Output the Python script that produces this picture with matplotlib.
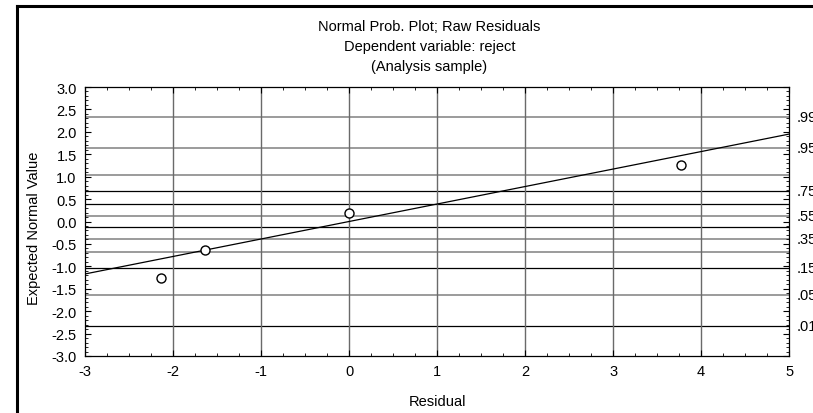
import numpy as np
import matplotlib.pyplot as plt
from matplotlib.lines import Line2D
from matplotlib.ticker import MultipleLocator

plt.rcParams['font.family'] = ['Liberation Sans', 'DejaVu Sans']
plt.rcParams['axes.unicode_minus'] = False

# residuals and their expected normal values
residuals = [-2.14, -1.64, 0.0, 3.77]
expected = [-1.26, -0.63, 0.19, 1.26]

# fitted reference line
fit_intercept = 0.0
fit_slope = 0.39

# probability grid lines (right side scale)
probs = [.01, .05, .15, .25, .35, .45, .55, .65, .75, .85, .95, .99]
prob_z = [-2.326, -1.645, -1.036, -0.674, -0.385, -0.126,
          0.126, 0.385, 0.674, 1.036, 1.645, 2.326]
prob_dark = [True, False, True, False, False, True,
             False, True, True, False, False, False]
prob_labels = ['.01', '.05', '.15', '', '.35', '', '.55', '', '.75', '', '.95', '.99']

FS = 10.5

fig = plt.figure(figsize=(8.13, 4.14), dpi=100)
ax = fig.add_axes([0.1046, 0.1377, 0.866, 0.6497])

ax.set_xlim(-3, 5)
ax.set_ylim(-3, 3)

for z, dark in zip(prob_z, prob_dark):
    ax.axhline(z, color='black' if dark else '#8a8a8a', lw=0.9 if dark else 1.2, zorder=1)
for xv in range(-2, 5):
    ax.axvline(xv, color='#6a6a6a', lw=1.0, zorder=1)

xs = np.array([-3, 5])
ax.plot(xs, fit_intercept + fit_slope * xs, color='black', lw=0.9, zorder=3)
ax.plot(residuals, expected, 'o', mfc='white', mec='black', ms=6.5, mew=1.0, zorder=4)

# right-hand probability labels (cut by the image edge, as in the original)
for z, lab in zip(prob_z, prob_labels):
    if lab:
        ax.text(1.011, z, lab, transform=ax.get_yaxis_transform(), fontsize=FS,
                va='center', ha='left', clip_on=False)

ax.xaxis.set_major_locator(MultipleLocator(1))
ax.xaxis.set_minor_locator(MultipleLocator(0.25))
ax.yaxis.set_major_locator(MultipleLocator(0.5))
ax.yaxis.set_minor_locator(MultipleLocator(0.1))
ax.yaxis.set_major_formatter(plt.FuncFormatter(lambda v, p: f'{v:.1f}'))
ax.tick_params(which='both', direction='in', top=True, right=True, labelsize=FS)
ax.tick_params(which='major', length=4, width=0.8)
ax.tick_params(axis='x', which='major', pad=6)
ax.tick_params(axis='y', which='major', pad=6)
ax.tick_params(which='minor', length=2, width=0.6)
for s in ax.spines.values():
    s.set_linewidth(0.9)

ax.set_xlabel('Residual', fontsize=FS, labelpad=11)
ax.set_ylabel('Expected Normal Value', fontsize=FS)
ax.yaxis.set_label_coords(-0.063, 0.48)

fig.text(0.528, 0.935, 'Normal Prob. Plot; Raw Residuals', ha='center', va='center', fontsize=FS)
fig.text(0.528, 0.887, 'Dependent variable: reject', ha='center', va='center', fontsize=FS)
fig.text(0.528, 0.839, '(Analysis sample)', ha='center', va='center', fontsize=FS)

# outer frame (left and top edges visible)
fig.add_artist(Line2D([0.0215, 0.0215], [0.0, 0.984], transform=fig.transFigure, color='black', lw=2.2))
fig.add_artist(Line2D([0.0215, 1.0], [0.984, 0.984], transform=fig.transFigure, color='black', lw=2.2))

fig.savefig('out.png', dpi=100)
